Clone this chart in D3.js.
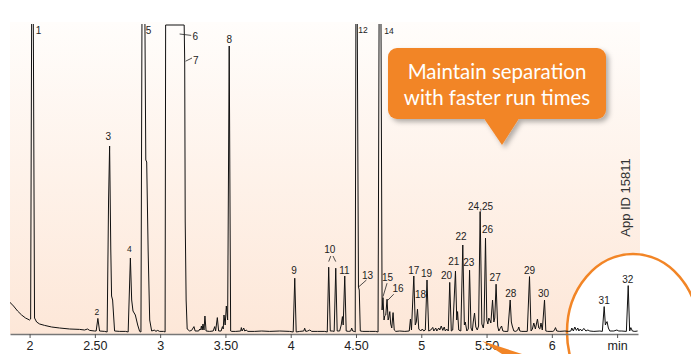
<!DOCTYPE html>
<html>
<head>
<meta charset="utf-8">
<script src="https://cdn.jsdelivr.net/npm/d3@7"></script>
<style>
  body { margin: 0; background: #fff; }
  svg { display: block; font-family: "Liberation Sans", Arial, Helvetica, sans-serif; }
</style>
</head>
<body>
<svg id="chrom" width="691" height="354"></svg>
<script>
// retention time (min) ticks
var tickValues = [2, 2.5, 3, 3.5, 4, 4.5, 5, 5.5, 6, 6.5];
var tickLabels = ["2", "2.50", "3", "3.50", "4", "4.50", "5", "5.50", "6", "min"];

// detector trace: [time, signal]
var trace = [
  [1.847,15.5],[1.877,13.5],[1.908,11],[1.939,9],[1.969,7.5],[2.000,6.5],[2.008,7],[2.017,180],[2.027,180],[2.038,7.5],
  [2.054,5.5],[2.077,4.5],[2.115,3.8],[2.169,3],[2.230,2.5],[2.307,2],[2.383,1.8],[2.421,1.5],[2.444,2],[2.460,1.3],[2.498,1],
  [2.510,1],[2.523,7.3],[2.536,1],[2.575,0.8],
  [2.594,0.5],[2.605,66.5],[2.613,93.5],[2.622,41.5],[2.628,18.5],[2.636,16.5],[2.651,1],[2.690,0.8],[2.736,0.8],
  [2.755,0.5],[2.772,37.5],[2.782,16.5],[2.792,11],[2.810,9],[2.828,4],[2.843,0.8],
  [2.853,0.5],[2.862,180],[2.881,180],[2.890,86.5],[2.897,85.5],[2.908,41.5],[2.920,6.5],[2.935,1],[2.958,1.5],[2.966,0.8],[2.981,1.3],[2.996,0.8],[3.027,0.8],
  [3.038,0.5],[3.042,154],[3.184,154],[3.188,136.5],[3.192,56],[3.199,16.5],[3.207,2],[3.226,1],[3.241,1.3],
  [3.259,3.2],[3.268,1],[3.295,1],[3.303,2],[3.310,1.5],[3.316,3.5],[3.322,1.5],[3.328,4.5],[3.336,1.5],[3.343,8.5],[3.352,1],
  [3.379,0.8],[3.406,1],[3.418,3.2],[3.425,1],[3.438,7.7],[3.448,1],[3.467,1],[3.477,3.2],[3.483,2],[3.489,9],[3.498,4],[3.507,13.5],[3.517,6.5],
  [3.529,143.5],[3.540,1],[3.548,0.8],[3.579,0.8],[3.617,1],[3.622,2.7],[3.628,1],[3.640,2.5],[3.648,1],[3.661,1.5],[3.670,0.8],
  [3.724,0.8],[3.778,1],[3.839,0.8],[3.916,1],[3.992,0.8],
  [4.019,0.5],[4.031,27.4],[4.042,0.5],[4.069,0.8],[4.100,1],[4.107,2.4],[4.115,0.8],[4.130,1],[4.146,1.5],[4.161,0.8],[4.207,0.8],[4.261,0.8],
  [4.280,0.5],[4.291,32.9],[4.303,1],[4.318,1],[4.333,0.8],[4.345,32.4],[4.356,1],[4.375,1],[4.387,4],[4.396,8.2],[4.402,4],
  [4.414,28.5],[4.425,1],[4.444,0.8],[4.460,1],[4.467,2.5],[4.475,1],[4.487,0.8],
  [4.494,0.5],[4.500,180],[4.508,180],[4.519,23],[4.525,21.5],[4.533,1],[4.552,0.8],[4.605,0.8],[4.651,0.8],[4.669,0.5],
  [4.678,180],[4.690,180],[4.700,11.5],[4.707,17.7],[4.715,6.5],[4.720,8.5],[4.728,9],[4.738,16.9],[4.746,6.5],[4.751,7.5],
  [4.759,10.7],[4.766,4.5],[4.774,2.5],[4.784,10.2],[4.793,1.5],[4.805,0.8],[4.835,1],[4.874,0.8],[4.908,1],[4.917,7],[4.925,1.5],
  [4.943,28.5],[4.954,4],[4.962,5.5],[4.971,11.9],[4.981,2],[4.996,1],[5.008,2],[5.019,1],[5.031,1.5],
  [5.044,26.5],[5.057,1],[5.073,1.5],[5.088,2.8],[5.096,1],[5.111,2.5],[5.119,1],[5.134,2.5],[5.142,1.5],[5.153,3.5],[5.165,1.3],
  [5.176,3],[5.184,1],[5.195,2],[5.207,1],
  [5.218,25.3],[5.230,1],[5.241,1.5],[5.262,31],[5.272,6.5],[5.278,10.7],[5.287,1.5],[5.303,1],[5.318,44],[5.330,4],[5.337,5.5],
  [5.349,1],[5.360,2],[5.370,31.4],[5.381,2.5],[5.391,1],[5.398,5.5],[5.408,10],[5.418,3],[5.429,1.5],[5.439,3.5],[5.451,60.7],
  [5.464,4.5],[5.475,2.5],[5.481,5.5],[5.492,47.4],[5.502,6.5],[5.510,4.5],[5.517,7.5],[5.525,6.5],[5.533,5],[5.546,16.5],
  [5.556,5.5],[5.563,7.5],[5.573,24.4],[5.585,3.5],[5.594,1],[5.605,2.3],[5.615,3.5],[5.625,1],[5.640,0.8],[5.663,0.8],
  [5.681,16.5],[5.690,5.5],[5.697,3.5],[5.709,1],[5.724,0.8],[5.739,1.5],[5.747,3],[5.755,1],[5.770,0.8],[5.812,0.8],
  [5.829,28.2],[5.841,1],[5.851,2],[5.862,5],[5.874,2],[5.890,7],[5.900,2.5],[5.908,2],[5.917,5],[5.927,1.5],[5.944,16.5],
  [5.954,1],[5.969,0.8],[6.008,0.8],[6.019,1.3],[6.028,2.7],[6.038,1],[6.061,0.8],[6.100,1],[6.130,0.8],[6.146,1],[6.153,2.5],
  [6.165,1],[6.176,3],[6.188,1.3],[6.199,2.5],[6.207,1],[6.218,2],[6.230,1],[6.245,2.3],[6.261,1],[6.276,1.5],[6.291,1],
  [6.322,0.8],[6.368,1],
  [6.387,0.8],[6.401,13.2],[6.410,4],[6.416,5],[6.423,5.7],[6.433,2.5],[6.444,1],[6.475,1],[6.498,1.5],[6.513,1],[6.536,1],
  [6.571,0.8],[6.585,23.7],[6.596,1],[6.605,2.7],[6.617,1],[6.636,0.8],[6.657,1]
];

// peak numbers: [label, time, signal] of the label centre
var peakLabels = [
  ["1",2.069,151.2],["2",2.516,10.5],["3",2.603,98.4],["4",2.764,42],["5",2.912,151.4],["6",3.270,148.4],
  ["7",3.272,136.2],["8",3.530,146.9],["9",4.025,31.4],["10",4.299,42],["11",4.411,31.5],["12",4.554,151.5],
  ["13",4.588,29],["14",4.753,151],["15",4.741,27.7],["16",4.822,22.4],["17",4.943,31.5],["18",4.994,19.4],
  ["19",5.040,29.7],["20",5.193,29],["21",5.249,35.7],["22",5.305,48.2],["23",5.364,35.2],["24,25",5.454,63.5],
  ["26",5.507,51.7],["27",5.566,27.7],["28",5.686,19.7],["29",5.829,31.5],["30",5.936,19.7],["31",6.401,16.2],["32",6.582,26.9]
];

// leader lines from label to peak: [t1, v1, t2, v2]
var leaders = [
  [3.149,149.5,3.238,148.8],[3.195,135.9,3.244,137.5],
  [4.291,35.7,4.307,38.5],[4.324,38.5,4.345,35.7],
  [4.523,23.2,4.580,26.5],[4.707,18.2,4.738,24.9],[4.741,16.2,4.789,19.4]
];

var smallLabels = ["2", "4", "12", "14"];

var svg = d3.select("#chrom");

var x = d3.scaleLinear().domain([1.85, 6.66]).range([10, 638]);
var y = d3.scaleLinear().domain([0, 154]).range([333, 25]);

var defs = svg.append("defs");

var grad = defs.append("linearGradient")
    .attr("id", "bg").attr("x1", 0).attr("y1", 0).attr("x2", 0).attr("y2", 1);
grad.append("stop").attr("offset", "0%").attr("stop-color", "#fffdfb");
grad.append("stop").attr("offset", "100%").attr("stop-color", "#fde7d8");

defs.append("clipPath").attr("id", "plotClip")
  .append("rect").attr("x", 10).attr("y", 24).attr("width", 630).attr("height", 320);

var shadow = defs.append("filter").attr("id", "shadow")
    .attr("x", "-10%").attr("y", "-10%").attr("width", "130%").attr("height", "140%");
shadow.append("feDropShadow")
    .attr("dx", 3).attr("dy", 3).attr("stdDeviation", 2.5)
    .attr("flood-color", "#000").attr("flood-opacity", 0.3);

/* panel background */
svg.append("rect")
    .attr("x", 10).attr("y", 22)
    .attr("width", 630).attr("height", 312)
    .attr("fill", "url(#bg)");

/* zoom circle, white inside */
svg.append("ellipse")
    .attr("cx", 633).attr("cy", 332).attr("rx", 66).attr("ry", 78)
    .attr("fill", "#fff")
    .attr("stroke", "#f28526").attr("stroke-width", 2.5);

svg.append("text")
    .attr("transform", "translate(625,197.5) rotate(-90)")
    .attr("text-anchor", "middle").attr("dy", "0.35em")
    .attr("font-size", 13).attr("fill", "#333")
    .text("App ID 15811");

/* x axis */
var xAxis = svg.append("g")
    .attr("transform", "translate(0,334)")
    .call(d3.axisBottom(x)
      .tickValues(tickValues)
      .tickFormat(function(d, i) { return tickLabels[i]; })
      .tickSize(4).tickSizeOuter(0).tickPadding(3.5));
xAxis.select(".domain").attr("stroke", "#777").attr("stroke-width", 1.5);
xAxis.selectAll(".tick line").attr("stroke", "#555");
xAxis.selectAll(".tick text")
    .attr("font-size", 12.5).attr("fill", "#222")
    .attr("font-family", "'Liberation Sans', Arial, sans-serif");

/* trace */
var line = d3.line()
    .x(function(d) { return x(d[0]); })
    .y(function(d) { return y(d[1]); });

svg.append("g").attr("clip-path", "url(#plotClip)")
  .append("path")
    .datum(trace)
    .attr("d", line)
    .attr("fill", "none")
    .attr("stroke", "#111")
    .attr("stroke-width", 1)
    .attr("stroke-linejoin", "miter");

/* leaders and peak numbers */
svg.append("g").selectAll("line")
    .data(leaders)
    .enter().append("line")
      .attr("x1", function(d) { return x(d[0]); })
      .attr("y1", function(d) { return y(d[1]); })
      .attr("x2", function(d) { return x(d[2]); })
      .attr("y2", function(d) { return y(d[3]); })
      .attr("stroke", "#222").attr("stroke-width", 0.8);

svg.append("g").selectAll("text")
    .data(peakLabels)
    .enter().append("text")
      .attr("x", function(d) { return x(d[1]); })
      .attr("y", function(d) { return y(d[2]); })
      .attr("dy", "0.35em")
      .attr("text-anchor", "middle")
      .attr("font-size", function(d) { return smallLabels.indexOf(d[0]) >= 0 ? 8.5 : 10; })
      .attr("fill", "#222")
      .text(function(d) { return d[0]; });

/* callout bubble */
var callout = svg.append("g").attr("filter", "url(#shadow)");
callout.append("rect")
    .attr("x", 388).attr("y", 48).attr("width", 218).attr("height", 71)
    .attr("rx", 9).attr("fill", "#f28526");
callout.append("path")
    .attr("d", "M483,117 L520,117 L502,145 Z")
    .attr("fill", "#f28526");

svg.append("g")
    .attr("font-family", "Lato, 'Open Sans', sans-serif")
    .attr("font-size", 20.5)
    .attr("fill", "#fff")
    .attr("text-anchor", "middle")
  .selectAll("text")
  .data(["Maintain separation", "with faster run times"])
  .enter().append("text")
    .attr("x", 497)
    .attr("y", function(d, i) { return 72 + i * 26; })
    .attr("dy", "0.35em")
    .text(function(d) { return d; });

/* orange pointer tail at the bottom */
svg.append("path")
    .attr("d", "M482,341 L522,354 L502,354 Z")
    .attr("fill", "#f28526");
</script>
</body>
</html>
